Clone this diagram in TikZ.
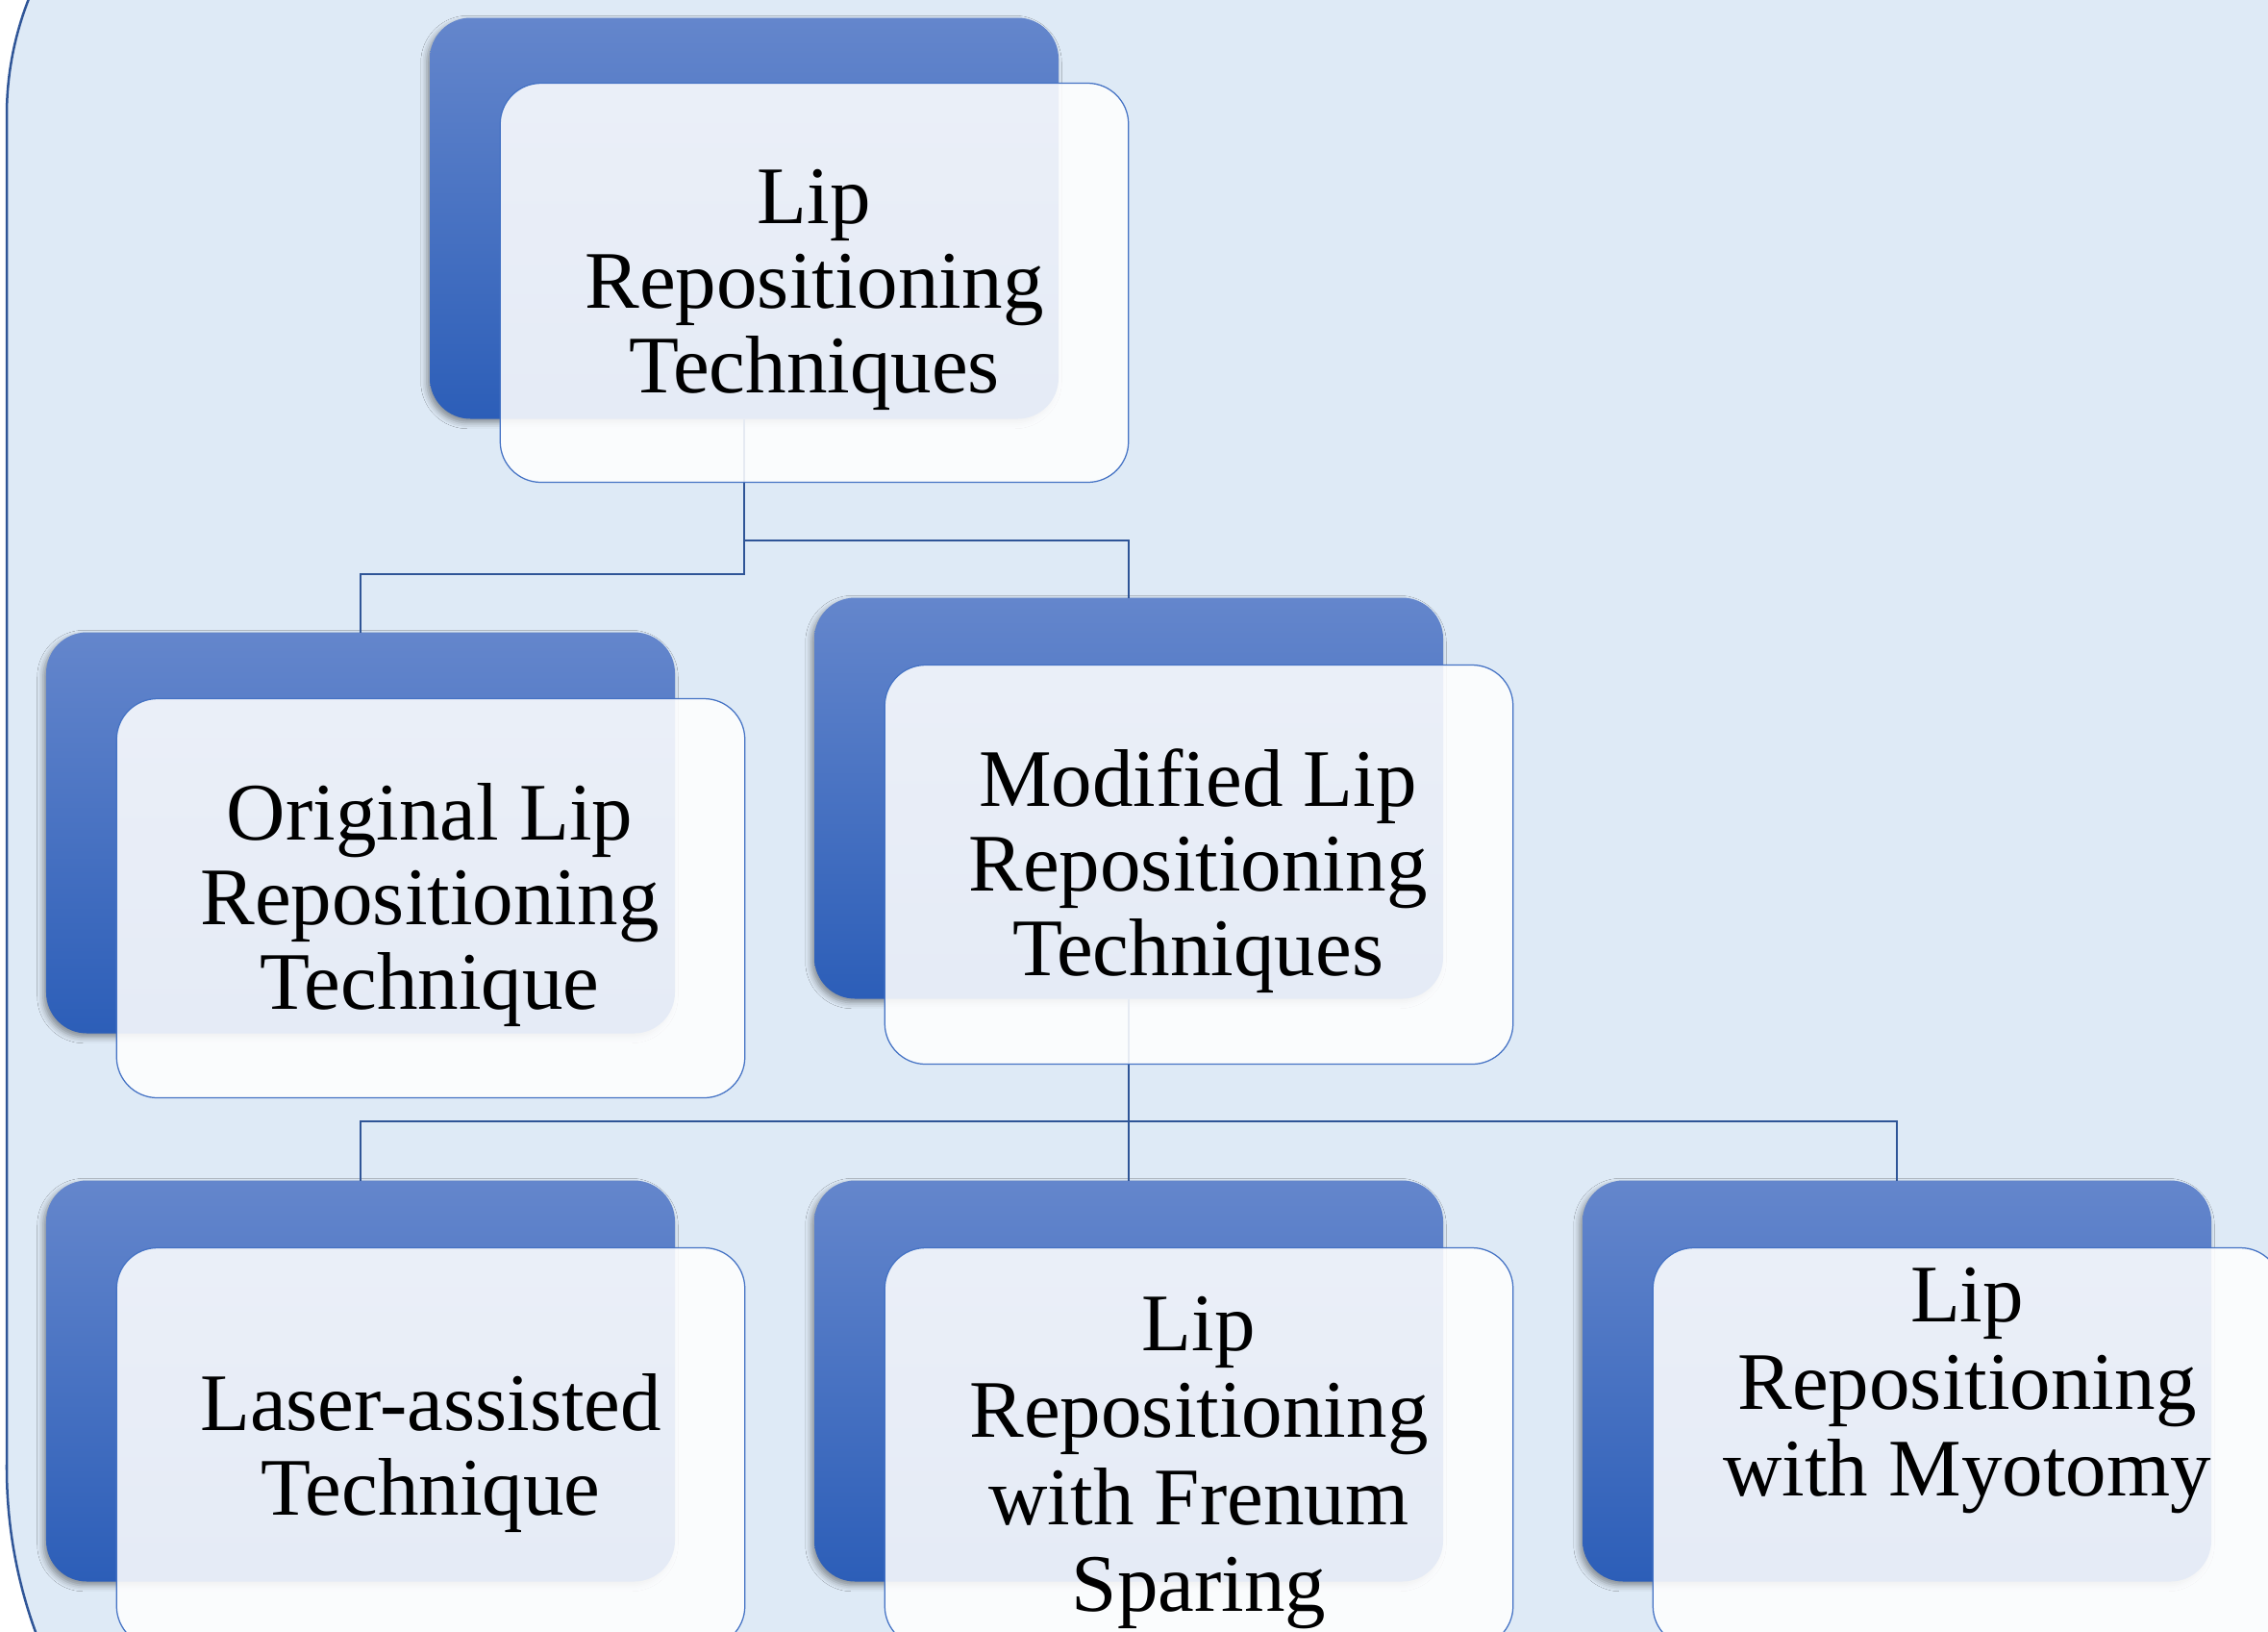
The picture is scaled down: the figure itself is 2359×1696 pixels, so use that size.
\documentclass[tikz,border=0pt]{standalone}
\usepackage{fontspec}
\setmainfont{Liberation Serif}
\usetikzlibrary{shadows.blur}
\definecolor{bgfill}{RGB}{222,234,246}
\definecolor{bgline}{RGB}{47,85,151}
\definecolor{connc}{RGB}{47,85,151}
\definecolor{backtop}{RGB}{100,134,204}
\definecolor{backbot}{RGB}{44,94,184}
\definecolor{frontline}{RGB}{68,114,196}
\tikzset{
  bgshape/.style={fill=bgfill, draw=bgline, line width=1pt},
  backbox/.style={rectangle, rounded corners=17pt, minimum width=261.6pt,
    minimum height=166.8pt, inner sep=0pt, outer sep=0pt,
    top color=backtop, bottom color=backbot, draw=none,
    blur shadow={shadow xshift=-1.2pt, shadow yshift=-1.6pt,
      shadow blur radius=2.5pt, shadow opacity=40}},
  frontbox/.style={rectangle, rounded corners=17pt, minimum width=261.4pt,
    minimum height=166pt, inner sep=0pt, outer sep=0pt,
    fill=white, fill opacity=0.88, draw=frontline, line width=0.5pt},
  lbl/.style={align=center, font=\fontsize{34}{35.2}\selectfont,
    text=black, inner sep=0pt},
  lblwide/.style={align=center, font=\fontsize{34}{36.2}\selectfont,
    text=black, inner sep=0pt},
  connector/.style={draw=connc, line width=0.8pt},
}
\begin{document}
\begin{tikzpicture}[x=0.4pt, y=-0.4pt]
\useasboundingbox (0,0) rectangle (2359,1696);
\clip (0,0) rectangle (2359,1696);
\fill[white] (0,0) rectangle (2359,1696);
% background panel
\draw[bgshape] (7,1526) -- (7,120) arc[start angle=180, end angle=90, radius=132pt]
  -- (2500,-210) -- (2500,2026) -- (507,2026)
  arc[start angle=270, end angle=180, radius=200pt] -- cycle;

% back boxes
\node[backbox] (rootB) at (774,227) {};
\node[backbox] (origB) at (375,866) {};
\node[backbox] (modB) at (1174,830) {};
\node[backbox] (laserB) at (375,1436) {};
\node[backbox] (frenB) at (1174,1436) {};
\node[backbox] (myoB) at (1973,1436) {};

% connectors
\draw[connector] (rootB.south) -- ++(0,161.5) -| (origB.north);
\draw[connector] (rootB.south) -- ++(0,126) -| (modB.north);
\draw[connector] (modB.south) -- ++(0,127.5) -| (laserB.north);
\draw[connector] (modB.south) -- (frenB.north);
\draw[connector] (modB.south) -- ++(0,127.5) -| (myoB.north);

% front boxes
\node[frontbox] (rootF) at (847,294) {};
\node[frontbox] (origF) at (448,934) {};
\node[frontbox] (modF) at (1247,899) {};
\node[frontbox] (laserF) at (448,1505) {};
\node[frontbox] (frenF) at (1247,1505) {};
\node[frontbox] (myoF) at (2046,1505) {};

% labels
\node[lbl] (rootT) at (847,301) {Lip\\Repositioning\\Techniques};
\node[lbl] (origT) at (447,941) {Original Lip\\Repositioning\\Technique};
\node[lbl] (modT) at (1246,906) {Modified Lip\\Repositioning\\Techniques};
\node[lbl] (laserT) at (448,1511) {Laser-assisted\\Technique};
\node[lblwide] (frenT) at (1247,1521) {Lip\\Repositioning\\with Frenum\\Sparing};
\node[lblwide] (myoT) at (2046,1446) {Lip\\Repositioning\\with Myotomy};
\end{tikzpicture}
\end{document}
